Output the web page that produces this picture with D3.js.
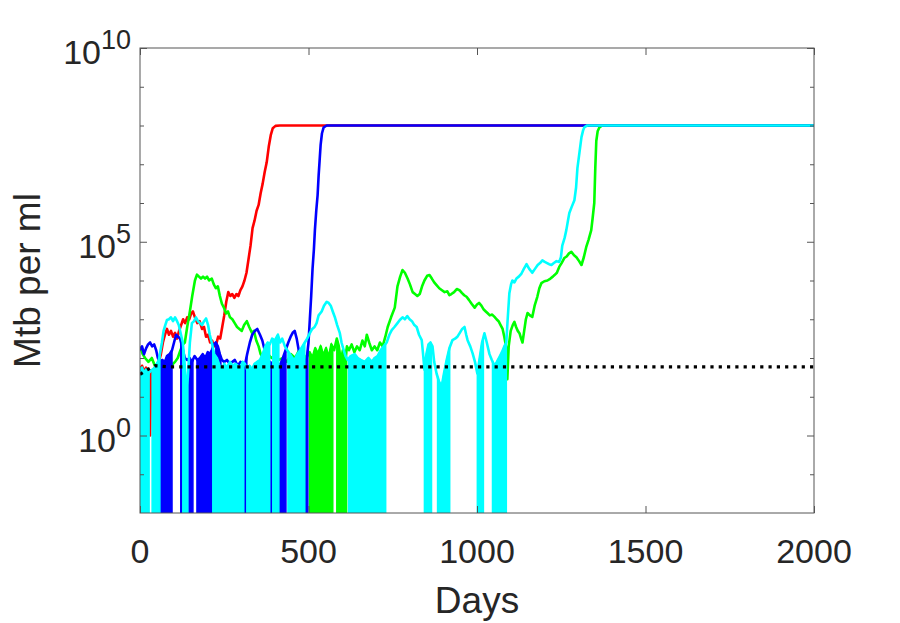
<!DOCTYPE html>
<html>
<head>
<meta charset="utf-8">
<script src="https://cdn.jsdelivr.net/npm/d3@7"></script>
<style>
  body { margin: 0; background: #fff; }
  svg text { font-family: "Liberation Sans", Arial, Helvetica, sans-serif; fill: #262626; }
</style>
</head>
<body>
<svg id="chart" width="900" height="623"></svg>
<script>
// x ticks and y decades
const xTicks = [0, 500, 1000, 1500, 2000];
const yMajor = [0, 5, 10];
const yMinor = [-1, 0, 1, 2, 3, 4, 5, 6, 7, 8, 9];

// log10(Mtb per ml), drops = day ranges where the run keeps hitting zero
const redDays = [0, 6, 12, 18, 24, 30, 33, 40, 48, 56, 62, 68, 74, 80, 86, 92, 98, 104, 110, 116, 122, 128, 134, 140, 146, 152, 157, 163, 170, 177, 184, 190, 196, 202, 208, 214, 220, 226, 232, 238, 244, 250, 256, 262, 268, 274, 280, 286, 292, 298, 304, 310, 316, 322, 328, 334, 340, 346, 352, 358, 364, 370, 376, 382, 388, 394, 402, 415, 2000];
const redLog = [1.7, 1.8, 1.65, 1.75, 1.7, 0, 1.6, 1.7, 1.8, 1.9, 2.1, 2.4, 2.6, 2.75, 2.6, 2.7, 2.55, 2.65, 2.5, 2.7, 2.85, 3.0, 2.9, 3.05, 3.0, 3.15, 3.2, 3.05, 2.9, 2.95, 2.75, 2.8, 2.55, 2.6, 2.4, 2.45, 2.3, 2.35, 2.55, 2.5, 2.8, 3.1, 3.45, 3.7, 3.6, 3.65, 3.55, 3.65, 3.6, 3.75, 3.85, 4.0, 4.2, 4.55, 4.9, 5.35, 5.55, 5.8, 5.95, 6.25, 6.5, 6.8, 7.05, 7.45, 7.75, 7.93, 7.99, 8.0, 8.0];
const redDrops = [];

const greenDays = [0, 8, 15, 25, 35, 44, 55, 65, 74, 82, 90, 98, 104, 112, 120, 127, 133, 140, 148, 155, 163, 169, 175, 181, 187, 193, 199, 205, 213, 219, 225, 231, 237, 243, 249, 255, 261, 267, 274, 281, 288, 295, 302, 309, 317, 324, 332, 338, 345, 352, 358, 365, 372, 380, 390, 400, 412, 424, 436, 448, 460, 472, 484, 493, 503, 512, 520, 528, 536, 544, 552, 560, 568, 576, 584, 590, 596, 602, 608, 614, 620, 628, 636, 644, 652, 660, 667, 673, 680, 688, 696, 704, 712, 720, 728, 735, 745, 756, 764, 772, 779, 786, 794, 801, 809, 816, 823, 830, 837, 844, 852, 859, 866, 873, 880, 888, 896, 904, 912, 918, 924, 932, 940, 948, 955, 962, 969, 976, 984, 993, 1000, 1006, 1013, 1020, 1026, 1031, 1038, 1045, 1052, 1058, 1064, 1070, 1076, 1081, 1086, 1090, 1094, 1100, 1106, 1111, 1116, 1121, 1126, 1131, 1135, 1140, 1145, 1150, 1157, 1164, 1171, 1179, 1185, 1191, 1200, 1209, 1218, 1225, 1230, 1237, 1244, 1251, 1259, 1266, 1273, 1280, 1288, 1295, 1303, 1310, 1317, 1324, 1331, 1339, 1343, 1348, 1351, 1354, 1358, 1363, 1372, 2000];
const greenLog = [2.3, 2.1, 2.0, 1.9, 2.0, 1.8, 1.85, 1.7, 1.6, 1.75, 1.7, 1.85, 1.9, 2.0, 2.2, 2.35, 2.4, 2.8, 3.2, 3.6, 4.0, 4.15, 4.1, 4.05, 4.1, 4.05, 4.1, 4.0, 4.05, 3.9, 3.8, 3.85, 3.6, 3.4, 3.3, 3.15, 3.2, 3.05, 3.0, 2.9, 2.8, 2.75, 2.7, 2.85, 2.95, 2.8, 2.65, 2.7, 2.45, 2.3, 2.1, 2.0, 1.95, 2.1, 2.0, 2.05, 1.95, 2.0, 1.9, 2.1, 2.0, 2.2, 2.1, 2.0, 2.15, 2.0, 2.25, 2.1, 2.3, 2.05, 2.25, 2.0, 2.35, 2.2, 2.5, 2.3, 1.9, 2.2, 1.9, 2.3, 2.2, 2.35, 2.15, 2.3, 2.2, 2.45, 2.3, 2.6, 2.4, 2.2, 2.3, 2.2, 2.4, 2.3, 2.55, 2.8, 3.05, 3.3, 3.85, 4.1, 4.27, 4.2, 4.05, 3.9, 3.7, 3.65, 3.6, 3.65, 3.85, 4.0, 4.12, 4.14, 4.05, 3.95, 3.88, 3.8, 3.75, 3.7, 3.72, 3.62, 3.65, 3.7, 3.78, 3.75, 3.68, 3.62, 3.58, 3.5, 3.4, 3.3, 3.38, 3.42, 3.35, 3.25, 3.2, 3.16, 3.1, 3.12, 3.06, 3.0, 2.95, 2.85, 2.75, 2.55, 2.3, 1.45, 2.3, 2.7, 2.85, 2.93, 2.8, 2.7, 2.64, 2.5, 2.4, 2.7, 3.0, 3.16, 3.1, 3.06, 3.35, 3.58, 3.8, 3.93, 3.98, 4.0, 4.05, 4.1, 4.14, 4.2, 4.35, 4.45, 4.58, 4.62, 4.7, 4.74, 4.65, 4.6, 4.5, 4.4, 4.6, 4.86, 5.05, 5.3, 5.6, 6.0, 6.9, 7.6, 7.85, 7.95, 8.0, 8.0];
const greenDrops = [[503, 572], [584, 613]];

const blueDays = [0, 6, 12, 18, 24, 30, 36, 42, 48, 53, 59, 66, 74, 80, 88, 95, 101, 107, 113, 119, 126, 133, 140, 147, 154, 162, 170, 178, 186, 194, 201, 207, 213, 219, 225, 231, 237, 243, 250, 258, 266, 274, 281, 290, 298, 305, 311, 318, 326, 333, 341, 348, 356, 363, 370, 377, 385, 395, 405, 415, 424, 432, 440, 447, 453, 459, 465, 471, 477, 483, 489, 495, 500, 504, 508, 512, 516, 519, 523, 527, 530, 533, 536, 540, 545, 554, 2000];
const blueLog = [2.2, 2.3, 2.1, 2.25, 2.35, 2.4, 2.3, 2.35, 2.2, 2.0, 1.9, 1.95, 1.9, 2.05, 2.1, 2.2, 2.4, 2.6, 2.55, 2.5, 2.25, 2.0, 1.95, 2.0, 1.9, 2.05, 1.95, 2.0, 2.1, 2.0, 2.15, 2.1, 2.2, 2.35, 2.4, 2.3, 2.1, 1.95, 1.9, 1.95, 1.85, 1.9, 1.95, 1.8, 1.9, 1.85, 1.8, 2.1, 2.4, 2.6, 2.7, 2.75, 2.6, 2.45, 2.2, 2.0, 1.9, 1.85, 1.9, 1.8, 2.0, 2.2, 2.4, 2.55, 2.65, 2.7, 2.5, 2.2, 2.0, 1.8, 1.85, 2.0, 2.4, 3.0, 3.6, 4.3, 4.8, 5.3, 5.8, 6.2, 6.7, 7.1, 7.5, 7.8, 7.95, 8.0, 8.0];
const blueDrops = [[59, 95], [121, 130], [145, 157], [169, 216], [225, 240], [308, 317], [385, 394], [409, 433], [489, 498]];

const cyanDays = [0, 6, 12, 18, 24, 30, 37, 44, 50, 56, 61, 65, 70, 75, 80, 86, 92, 98, 104, 110, 115, 119, 123, 127, 132, 137, 142, 148, 154, 160, 166, 172, 178, 184, 190, 196, 202, 207, 213, 220, 228, 236, 243, 250, 258, 267, 275, 283, 290, 297, 305, 311, 318, 325, 332, 340, 348, 356, 364, 372, 379, 385, 392, 400, 409, 416, 422, 430, 437, 445, 452, 459, 467, 475, 482, 489, 496, 504, 511, 518, 524, 530, 539, 546, 554, 560, 566, 572, 578, 585, 593, 598, 603, 610, 616, 625, 637, 646, 655, 667, 678, 688, 696, 705, 714, 723, 732, 740, 747, 755, 764, 771, 779, 786, 793, 800, 807, 814, 821, 828, 836, 840, 844, 850, 856, 862, 868, 873, 880, 887, 895, 902, 910, 918, 927, 935, 942, 949, 956, 963, 968, 972, 980, 987, 994, 1001, 1008, 1015, 1022, 1029, 1037, 1044, 1052, 1059, 1067, 1074, 1081, 1087, 1091, 1096, 1101, 1105, 1111, 1117, 1124, 1132, 1139, 1147, 1155, 1164, 1172, 1180, 1187, 1194, 1201, 1208, 1214, 1221, 1228, 1236, 1244, 1249, 1253, 1260, 1265, 1270, 1274, 1281, 1289, 1294, 1298, 1304, 1310, 1315, 1319, 1327, 2000];
const cyanLog = [1.7, 1.75, 1.6, 1.7, 1.6, 1.65, 1.7, 1.75, 1.85, 1.95, 2.2, 2.4, 2.7, 2.85, 2.98, 3.0, 3.05, 2.95, 3.05, 2.95, 2.85, 2.7, 2.55, 2.4, 1.9, 1.2, 1.5, 2.4, 2.9, 2.95, 3.05, 2.95, 2.9, 2.85, 2.95, 3.02, 2.85, 2.6, 2.4, 2.1, 2.0, 1.8, 1.7, 1.85, 1.75, 1.9, 1.8, 1.85, 1.8, 1.75, 1.9, 1.85, 1.7, 1.8, 1.7, 1.85, 1.9, 1.95, 2.1, 2.3, 2.4, 2.35, 2.5, 2.45, 2.6, 2.4, 2.5, 2.3, 2.2, 2.1, 2.0, 1.95, 2.1, 2.2, 2.3, 2.4, 2.5, 2.64, 2.75, 2.8, 2.9, 3.1, 3.2, 3.35, 3.45, 3.42, 3.35, 3.2, 3.06, 2.85, 2.64, 2.4, 2.25, 2.05, 1.95, 2.05, 2.1, 2.0, 1.95, 1.9, 2.0, 1.9, 2.0, 2.05, 2.2, 2.3, 2.4, 2.6, 2.72, 2.8, 2.9, 2.98, 3.05, 3.0, 3.08, 3.0, 2.95, 2.85, 2.8, 2.6, 2.46, 2.1, 1.7, 2.1, 2.35, 2.4, 2.3, 1.9, 1.6, 1.4, 1.25, 1.6, 1.95, 2.25, 2.46, 2.5, 2.55, 2.65, 2.75, 2.8, 2.6, 2.46, 2.3, 2.12, 1.9, 1.6, 2.0, 2.4, 2.64, 2.4, 2.1, 1.95, 1.8, 1.9, 2.03, 2.15, 2.3, 2.4, 3.0, 3.67, 3.9, 4.0, 3.95, 4.05, 4.1, 4.18, 4.3, 4.42, 4.3, 4.2, 4.3, 4.4, 4.45, 4.52, 4.48, 4.45, 4.42, 4.4, 4.45, 4.5, 4.48, 4.6, 4.9, 5.1, 5.3, 5.55, 5.74, 5.9, 6.07, 6.4, 6.9, 7.3, 7.7, 7.88, 7.96, 8.0, 8.0];
const cyanDrops = [[0, 27], [36, 59], [127, 142], [216, 308], [317, 385], [394, 412], [439, 489], [619, 729], [844, 865], [883, 919], [1001, 1019], [1046, 1087]];

// detection threshold (dotted)
const blackDays = [0, 15, 30, 45, 60, 90, 2000];
const blackLog = [1.58, 1.66, 1.74, 1.8, 1.79, 1.77, 1.77];

const series = [
  { color: '#ff0000', days: redDays, log: redLog, drops: redDrops },
  { color: '#00ff00', days: greenDays, log: greenLog, drops: greenDrops },
  { color: '#0000ff', days: blueDays, log: blueLog, drops: blueDrops },
  { color: '#00ffff', days: cyanDays, log: cyanLog, drops: cyanDrops }
];

const pLeft = 140, pRight = 814, pTop = 48, pBottom = 513;
const svg = d3.select('#chart');

const x = d3.scaleLinear().domain([0, 2000]).range([pLeft, pRight]);
const y = d3.scaleLog().domain([1e-2, 1e10]).range([pBottom, pTop]);

svg.append('rect').attr('width', 900).attr('height', 623).attr('fill', '#fff');

svg.append('clipPath').attr('id', 'plot')
  .append('rect')
  .attr('x', pLeft).attr('y', pTop)
  .attr('width', pRight - pLeft).attr('height', pBottom - pTop);

const g = svg.append('g').attr('clip-path', 'url(#plot)');

const line = d3.line()
  .x(d => x(d[0]))
  .y(d => y(Math.pow(10, d[1])));

const area = d3.area()
  .x(d => x(d[0]))
  .y0(pBottom)
  .y1(d => y(Math.pow(10, d[1])));

series.forEach(s => {
  const pts = s.days.map((d, i) => [d, s.log[i]]);
  const at = d3.scaleLinear().domain(s.days).range(s.log);
  s.drops.forEach(([a, b]) => {
    const seg = [[a, at(a)]]
      .concat(pts.filter(p => p[0] > a && p[0] < b))
      .concat([[b, at(b)]]);
    g.append('path')
      .attr('d', area(seg))
      .attr('fill', s.color)
      .attr('stroke', s.color)
      .attr('stroke-width', 1.5);
  });
  g.append('path')
    .attr('d', line(pts))
    .attr('fill', 'none')
    .attr('stroke', s.color)
    .attr('stroke-width', 2.6)
    .attr('stroke-linejoin', 'round');
});

g.append('path')
  .attr('d', line(blackDays.map((d, i) => [d, blackLog[i]])))
  .attr('fill', 'none')
  .attr('stroke', '#000')
  .attr('stroke-width', 3.2)
  .attr('stroke-dasharray', '3.2,5.1');

// axes box and ticks
const axisColor = '#555';
svg.append('rect')
  .attr('x', pLeft).attr('y', pTop)
  .attr('width', pRight - pLeft).attr('height', pBottom - pTop)
  .attr('fill', 'none').attr('stroke', axisColor).attr('stroke-width', 1);

svg.append('g').attr('transform', `translate(0,${pBottom})`)
  .call(d3.axisBottom(x).tickValues(xTicks).tickSize(-7).tickFormat(''))
  .call(a => a.select('.domain').remove())
  .selectAll('line').attr('stroke', axisColor);
svg.append('g').attr('transform', `translate(0,${pTop})`)
  .call(d3.axisTop(x).tickValues(xTicks).tickSize(-7).tickFormat(''))
  .call(a => a.select('.domain').remove())
  .selectAll('line').attr('stroke', axisColor);

[[d3.axisLeft, pLeft], [d3.axisRight, pRight]].forEach(([ax, pos]) => {
  svg.append('g').attr('transform', `translate(${pos},0)`)
    .call(ax(y).tickValues(yMinor.filter(v => !yMajor.includes(v)).map(v => Math.pow(10, v))).tickSize(-4).tickFormat(''))
    .call(a => a.select('.domain').remove())
    .selectAll('line').attr('stroke', axisColor);
  svg.append('g').attr('transform', `translate(${pos},0)`)
    .call(ax(y).tickValues(yMajor.map(v => Math.pow(10, v))).tickSize(-7).tickFormat(''))
    .call(a => a.select('.domain').remove())
    .selectAll('line').attr('stroke', axisColor);
});

svg.selectAll('.xlab').data(xTicks).enter().append('text')
  .attr('x', d => x(d)).attr('y', 563)
  .attr('text-anchor', 'middle')
  .style('font-size', '34px')
  .text(d => d);

const ylab = svg.selectAll('.ylab').data(yMajor).enter().append('text')
  .attr('x', 131).attr('y', d => y(Math.pow(10, d)) + 16)
  .attr('text-anchor', 'end')
  .style('font-size', '34px');
ylab.append('tspan').text('10');
ylab.append('tspan').attr('dy', -15).style('font-size', '27px').text(d => d);

svg.append('text')
  .attr('x', (pLeft + pRight) / 2).attr('y', 613)
  .attr('text-anchor', 'middle')
  .style('font-size', '37px')
  .text('Days');

svg.append('text')
  .attr('transform', `translate(40,${(pTop + pBottom) / 2}) rotate(-90)`)
  .attr('text-anchor', 'middle')
  .style('font-size', '37px')
  .text('Mtb per ml');
</script>
</body>
</html>
